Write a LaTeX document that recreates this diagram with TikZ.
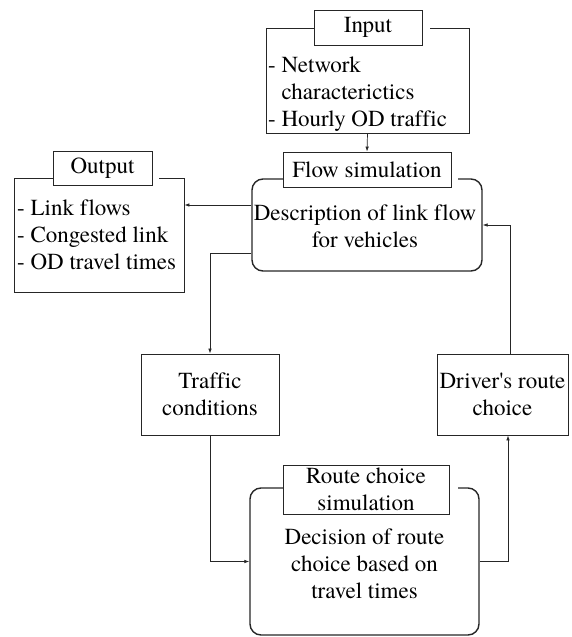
\documentclass[tikz,border=0pt]{standalone}
\usepackage{fontspec}
\setmainfont{texgyretermes}[Extension=.otf, UprightFont=*-regular, BoldFont=*-bold, ItalicFont=*-italic, Ligatures=CommonOff]
\usetikzlibrary{arrows.meta,positioning}

\begin{document}
\begin{tikzpicture}[x=1pt, y=-1pt,
    every node/.style={font=\fontsize{23}{27}\selectfont, text=black, inner sep=0pt},
    framebox/.style={draw=black!85, line width=0.9pt},
    roundframe/.style={draw=black!85, line width=1.4pt, rounded corners=11pt},
    titlebox/.style={draw=black!85, line width=0.9pt, fill=white, align=center},
    gapline/.style={draw=white, line width=3pt},
    bodytext/.style={align=center},
    listtext/.style={align=left, anchor=west},
    arr/.style={-{Latex[length=5pt,width=3.6pt]}, line width=0.7pt, black!85}]
    \useasboundingbox (0,0) rectangle (571,637);

    % input
    \node[framebox, minimum width=203pt, minimum height=105pt] (inframe) at (367.5,80.5) {};
    \draw[gapline] (inframe.north -| 422,0) -- ++(8,0);
    \node[titlebox, minimum width=108pt, minimum height=35pt] (intitle) at (368,27.5) {Input};
    \node[listtext] (intext) at (268,94) {- Network\\\hphantom{- }characterictics\\- Hourly OD traffic};

    % flow simulation
    \node[roundframe, minimum width=230pt, minimum height=92pt] (flowframe) at (367,225) {};
    \draw[gapline] (flowframe.north -| 451,0) -- ++(7,0);
    \node[titlebox, minimum width=168pt, minimum height=35pt] (flowtitle) at (367,169.5) {Flow simulation};
    \node[bodytext] (flowtext) at (365,226) {Description of link flow\\for vehicles};

    % output
    \node[framebox, minimum width=170pt, minimum height=114pt] (outframe) at (99,235) {};
    \draw[gapline] (outframe.north -| 152,0) -- ++(7,0);
    \node[titlebox, minimum width=99pt, minimum height=34pt] (outtitle) at (102.5,168) {Output};
    \node[listtext] (outtext) at (17,235) {- Link flows\\- Congested link\\- OD travel times};

    % middle boxes
    \node[framebox, bodytext, minimum width=138pt, minimum height=81pt] (traffic) at (210,394.5) {Traffic\\conditions};
    \node[framebox, bodytext, minimum width=131pt, minimum height=81pt] (driver) at (502.5,394.5) {Driver\textquotesingle s route\\choice};

    % route choice simulation
    \node[roundframe, minimum width=229pt, minimum height=147pt] (routeframe) at (364.5,561.5) {};
    \draw[gapline] (routeframe.north -| 449,0) -- ++(9,0);
    \node[titlebox, minimum width=166pt, minimum height=49pt] (routetitle) at (366,489.5) {Route choice\\simulation};
    \node[bodytext] (routetext) at (364.5,564) {Decision of route\\choice based on\\travel times};

    % connectors
    \coordinate (flowout) at ([yshift=20pt]flowframe.west);
    \coordinate (flowdown) at ([yshift=-28pt]flowframe.west);
    \draw[arr] (inframe.south) -- (flowtitle.north);
    \draw[arr] (flowout) -- (flowout -| outframe.east);
    \draw[arr] (flowdown) -| (traffic.north);
    \draw[arr] (traffic.south) |- (routeframe.west);
    \draw[arr] (routeframe.east) -| ([xshift=5.5pt]driver.south);
    \draw[arr] ([xshift=7.5pt]driver.north) |- (flowframe.east);
\end{tikzpicture}
\end{document}
